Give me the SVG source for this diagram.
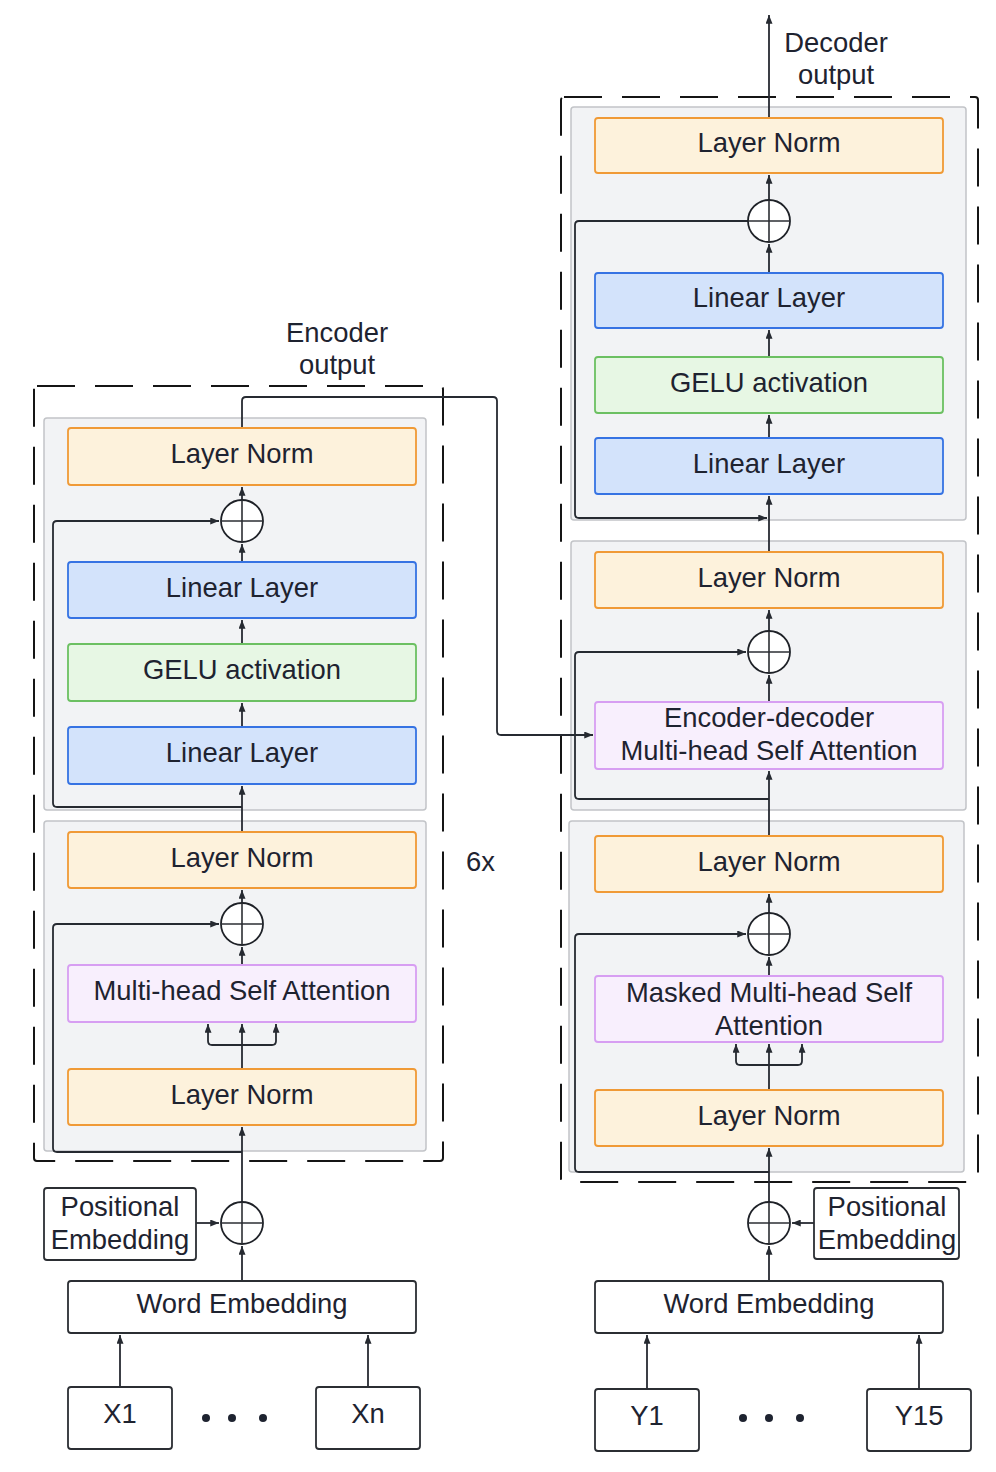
<svg xmlns="http://www.w3.org/2000/svg" width="996" height="1472" viewBox="0 0 996 1472">
<defs>
<marker id="arr" viewBox="0 0 10 8" refX="10" refY="4" markerWidth="9" markerHeight="7" markerUnits="userSpaceOnUse" orient="auto"><path d="M0,0 L10,4 L0,8 z" fill="#262a31"/></marker>
<style>
text{font-family:"Liberation Sans",Arial,sans-serif;font-size:27.4px;fill:#1e2330;text-anchor:middle}
.dash{fill:none;stroke:#151515;stroke-width:2;stroke-dasharray:38 20}
.cont{fill:#f2f3f5;stroke:#c2c4c8;stroke-width:1.5}
.ln{fill:#fdf2dc;stroke:#f09a36;stroke-width:1.8}
.lin{fill:#d3e3fb;stroke:#3673e3;stroke-width:1.8}
.gelu{fill:#e7f7e4;stroke:#6cc062;stroke-width:1.8}
.mhsa{fill:#f8effd;stroke:#d79ef2;stroke-width:1.8}
.plain{fill:#ffffff;stroke:#2b2e33;stroke-width:1.8}
.sum circle{fill:#ffffff;stroke:#1e2127;stroke-width:1.8}
.sum line{stroke:#2b2e33;stroke-width:1.6}
.c path{fill:none;stroke:#262a31;stroke-width:1.8;marker-end:url(#arr)}
.dot{fill:#1e2330}
</style>
</defs>
<rect width="996" height="1472" fill="#ffffff"/>

<!-- frames -->
<g id="encoder-frame">
<rect class="dash" x="34" y="386" width="409" height="775" rx="3"/>
<rect class="cont" x="44" y="418" width="382" height="392" rx="3"/>
<rect class="cont" x="44" y="821" width="382" height="330" rx="3"/>
</g>
<g id="decoder-frame">
<rect class="dash" x="561" y="97" width="417" height="1085" rx="3"/>
<rect class="cont" x="571" y="107" width="395" height="413" rx="3"/>
<rect class="cont" x="571" y="541" width="395" height="269" rx="3"/>
<rect class="cont" x="569" y="821" width="395" height="351" rx="3"/>
</g>

<!-- connectors -->
<g id="connectors" class="c">
<!-- encoder -->
<path d="M120,1387 V1335"/>
<path d="M368,1387 V1335"/>
<path d="M242,1281 V1246"/>
<path d="M196,1223 H219"/>
<path d="M242,1202 V1127"/>
<path d="M242,1152 H57 Q53,1152 53,1148 V928 Q53,924 57,924 H219"/>
<path d="M242,1069 V1024"/>
<path d="M242,1045 H212 Q208,1045 208,1041 V1024"/>
<path d="M242,1045 H272 Q276,1045 276,1041 V1024"/>
<path d="M242,965 V947"/>
<path d="M242,903 V890"/>
<path d="M242,832 V786"/>
<path d="M242,807 H57 Q53,807 53,803 V525 Q53,521 57,521 H219"/>
<path d="M242,727 V703"/>
<path d="M242,644 V620"/>
<path d="M242,562 V544"/>
<path d="M242,500 V487"/>
<path d="M242,428 V401 Q242,397 246,397 H493 Q497,397 497,401 V731 Q497,735 501,735 H593"/>
<!-- decoder -->
<path d="M647,1389 V1335"/>
<path d="M919,1389 V1335"/>
<path d="M769,1281 V1246"/>
<path d="M814,1223 H792"/>
<path d="M769,1202 V1148"/>
<path d="M769,1172 H579 Q575,1172 575,1168 V938 Q575,934 579,934 H746"/>
<path d="M769,1090 V1044"/>
<path d="M769,1065 H740 Q736,1065 736,1061 V1044"/>
<path d="M769,1065 H798 Q802,1065 802,1061 V1044"/>
<path d="M769,976 V957"/>
<path d="M769,913 V894"/>
<path d="M769,836 V771"/>
<path d="M769,799 H579 Q575,799 575,795 V656 Q575,652 579,652 H746"/>
<path d="M769,702 V675"/>
<path d="M769,631 V610"/>
<path d="M769,552 V496"/>
<path d="M748,221 H579 Q575,221 575,225 V514 Q575,518 579,518 H767"/>
<path d="M769,438 V415"/>
<path d="M769,357 V330"/>
<path d="M769,273 V244"/>
<path d="M769,200 V175"/>
<path d="M769,118 V15"/>
</g>

<!-- encoder nodes -->
<g id="enc-ln-top"><rect class="ln" x="68" y="428" width="348" height="57" rx="3"/><text x="242" y="463">Layer Norm</text></g>
<g id="enc-sum-ffn" class="sum"><circle cx="242" cy="521" r="21"/><line x1="221" y1="521" x2="263" y2="521"/><line x1="242" y1="500" x2="242" y2="542"/></g>
<g id="enc-linear-2"><rect class="lin" x="68" y="562" width="348" height="56" rx="3"/><text x="242" y="597">Linear Layer</text></g>
<g id="enc-gelu"><rect class="gelu" x="68" y="644" width="348" height="57" rx="3"/><text x="242" y="679">GELU activation</text></g>
<g id="enc-linear-1"><rect class="lin" x="68" y="727" width="348" height="57" rx="3"/><text x="242" y="762">Linear Layer</text></g>
<g id="enc-ln-mid"><rect class="ln" x="68" y="832" width="348" height="56" rx="3"/><text x="242" y="867">Layer Norm</text></g>
<g id="enc-sum-att" class="sum"><circle cx="242" cy="924" r="21"/><line x1="221" y1="924" x2="263" y2="924"/><line x1="242" y1="903" x2="242" y2="945"/></g>
<g id="enc-mhsa"><rect class="mhsa" x="68" y="965" width="348" height="57" rx="3"/><text x="242" y="1000">Multi-head Self Attention</text></g>
<g id="enc-ln-bottom"><rect class="ln" x="68" y="1069" width="348" height="56" rx="3"/><text x="242" y="1104">Layer Norm</text></g>
<g id="enc-sum-pos" class="sum"><circle cx="242" cy="1223" r="21"/><line x1="221" y1="1223" x2="263" y2="1223"/><line x1="242" y1="1202" x2="242" y2="1244"/></g>
<g id="enc-pos-emb"><rect class="plain" x="44" y="1188" width="152" height="72" rx="3"/><text x="120" y="1216">Positional</text><text x="120" y="1249">Embedding</text></g>
<g id="enc-word-emb"><rect class="plain" x="68" y="1281" width="348" height="52" rx="3"/><text x="242" y="1313">Word Embedding</text></g>
<g id="enc-x1"><rect class="plain" x="68" y="1387" width="104" height="62" rx="3"/><text x="120" y="1423">X1</text></g>
<g id="enc-xn"><rect class="plain" x="316" y="1387" width="104" height="62" rx="3"/><text x="368" y="1423">Xn</text></g>
<g id="enc-dots"><circle class="dot" cx="206" cy="1418" r="4"/><circle class="dot" cx="232" cy="1418" r="4"/><circle class="dot" cx="263" cy="1418" r="4"/></g>
<g id="enc-output-label"><text x="337" y="342">Encoder</text><text x="337" y="374">output</text></g>
<g id="repeat-label"><text x="466" y="871" style="text-anchor:start">6x</text></g>

<!-- decoder nodes -->
<g id="dec-ln-top"><rect class="ln" x="595" y="118" width="348" height="55" rx="3"/><text x="769" y="152">Layer Norm</text></g>
<g id="dec-sum-ffn" class="sum"><circle cx="769" cy="221" r="21"/><line x1="748" y1="221" x2="790" y2="221"/><line x1="769" y1="200" x2="769" y2="242"/></g>
<g id="dec-linear-2"><rect class="lin" x="595" y="273" width="348" height="55" rx="3"/><text x="769" y="307">Linear Layer</text></g>
<g id="dec-gelu"><rect class="gelu" x="595" y="357" width="348" height="56" rx="3"/><text x="769" y="392">GELU activation</text></g>
<g id="dec-linear-1"><rect class="lin" x="595" y="438" width="348" height="56" rx="3"/><text x="769" y="473">Linear Layer</text></g>
<g id="dec-ln-2"><rect class="ln" x="595" y="552" width="348" height="56" rx="3"/><text x="769" y="587">Layer Norm</text></g>
<g id="dec-sum-cross" class="sum"><circle cx="769" cy="652" r="21"/><line x1="748" y1="652" x2="790" y2="652"/><line x1="769" y1="631" x2="769" y2="673"/></g>
<g id="dec-cross-att"><rect class="mhsa" x="595" y="702" width="348" height="67" rx="3"/><text x="769" y="727">Encoder-decoder</text><text x="769" y="760">Multi-head Self Attention</text></g>
<g id="dec-ln-3"><rect class="ln" x="595" y="836" width="348" height="56" rx="3"/><text x="769" y="871">Layer Norm</text></g>
<g id="dec-sum-self" class="sum"><circle cx="769" cy="934" r="21"/><line x1="748" y1="934" x2="790" y2="934"/><line x1="769" y1="913" x2="769" y2="955"/></g>
<g id="dec-masked-att"><rect class="mhsa" x="595" y="976" width="348" height="66" rx="3"/><text x="769" y="1002">Masked Multi-head Self</text><text x="769" y="1035">Attention</text></g>
<g id="dec-ln-bottom"><rect class="ln" x="595" y="1090" width="348" height="56" rx="3"/><text x="769" y="1125">Layer Norm</text></g>
<g id="dec-sum-pos" class="sum"><circle cx="769" cy="1223" r="21"/><line x1="748" y1="1223" x2="790" y2="1223"/><line x1="769" y1="1202" x2="769" y2="1244"/></g>
<g id="dec-pos-emb"><rect class="plain" x="814" y="1188" width="145" height="71" rx="3"/><text x="887" y="1216">Positional</text><text x="887" y="1249">Embedding</text></g>
<g id="dec-word-emb"><rect class="plain" x="595" y="1281" width="348" height="52" rx="3"/><text x="769" y="1313">Word Embedding</text></g>
<g id="dec-y1"><rect class="plain" x="595" y="1389" width="104" height="62" rx="3"/><text x="647" y="1425">Y1</text></g>
<g id="dec-y15"><rect class="plain" x="867" y="1389" width="104" height="62" rx="3"/><text x="919" y="1425">Y15</text></g>
<g id="dec-dots"><circle class="dot" cx="743" cy="1418" r="4"/><circle class="dot" cx="769" cy="1418" r="4"/><circle class="dot" cx="800" cy="1418" r="4"/></g>
<g id="dec-output-label"><text x="836" y="52">Decoder</text><text x="836" y="84">output</text></g>
</svg>
